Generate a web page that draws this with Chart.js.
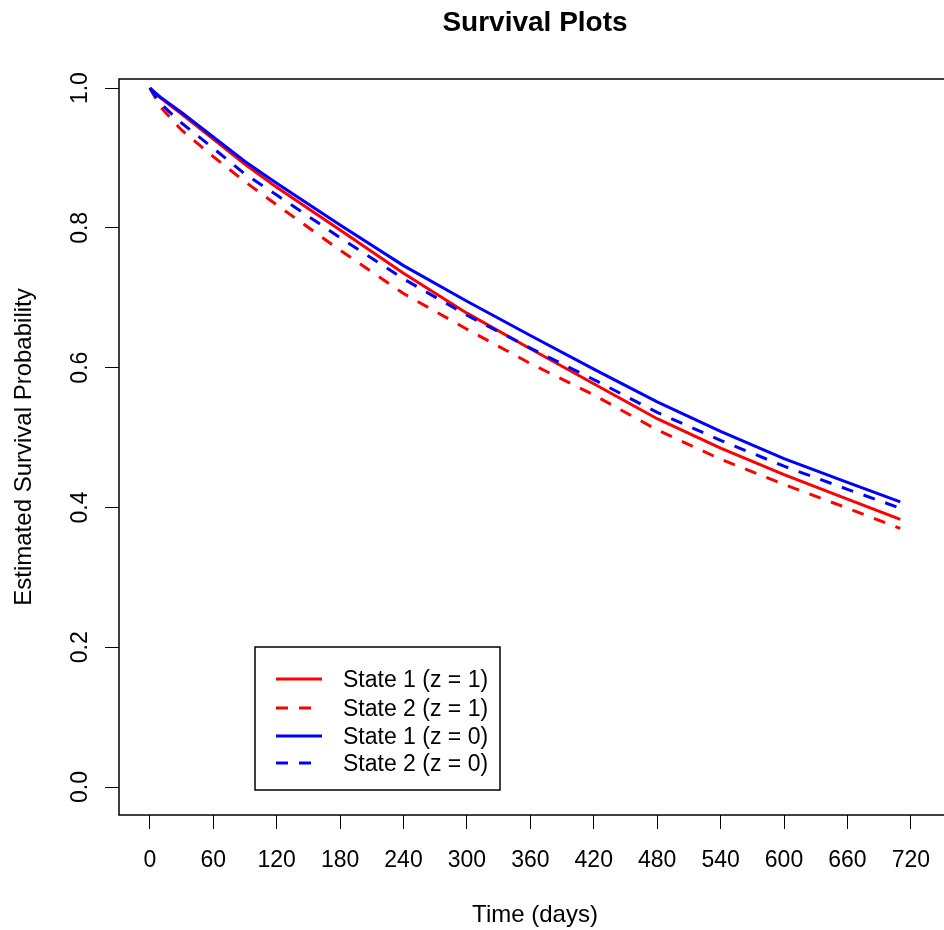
<!DOCTYPE html>
<html>
<head>
<meta charset="utf-8">
<script src="https://cdn.jsdelivr.net/npm/chart.js@4.4.1/dist/chart.umd.min.js"></script>
<style>
  html, body { margin: 0; padding: 0; background: #fff; overflow: hidden; }
  #wrap { width: 944px; height: 930px; overflow: hidden; position: relative; }
  canvas { display: block; }
</style>
</head>
<body>
<div id="wrap"><canvas id="survival" width="960" height="930"></canvas></div>
<script>
// Time grid (days) and estimated survival
const days = [0, 10, 30, 60, 90, 120, 180, 240, 300, 360, 420, 480, 540, 600, 660, 710];
const state1z1 = [1.000, 0.986, 0.963, 0.927, 0.891, 0.858, 0.797, 0.735, 0.678, 0.627, 0.577, 0.527, 0.485, 0.447, 0.412, 0.383];
const state2z1 = [1.000, 0.973, 0.940, 0.902, 0.866, 0.833, 0.768, 0.706, 0.655, 0.606, 0.561, 0.511, 0.469, 0.433, 0.399, 0.370];
const state1z0 = [1.000, 0.987, 0.965, 0.930, 0.895, 0.864, 0.804, 0.746, 0.695, 0.646, 0.598, 0.551, 0.509, 0.470, 0.436, 0.408];
const state2z0 = [1.000, 0.978, 0.950, 0.914, 0.877, 0.847, 0.786, 0.727, 0.675, 0.628, 0.583, 0.536, 0.496, 0.459, 0.426, 0.399];

const seriesLabels = ['State 1 (z = 1)', 'State 2 (z = 1)', 'State 1 (z = 0)', 'State 2 (z = 0)'];
const xTicks = [0, 60, 120, 180, 240, 300, 360, 420, 480, 540, 600, 660, 720];
const yTicks = [0, 0.2, 0.4, 0.6, 0.8, 1.0];

const FONT = "'Liberation Sans', Arial, Helvetica, sans-serif";
const DASH = [12, 11];

function toPoints(values) {
    return values.map((v, i) => ({ x: days[i], y: v }));
}

// R style box around the plot region
const boxPlugin = {
    id: 'box',
    afterDraw(chart) {
        const { ctx, chartArea } = chart;
        ctx.save();
        ctx.strokeStyle = '#000';
        ctx.lineWidth = 1.5;
        ctx.strokeRect(chartArea.left, chartArea.top, chartArea.right - chartArea.left, chartArea.bottom - chartArea.top);
        ctx.restore();
    }
};

// y tick labels are written vertically like in R (las = 0)
const yLabelPlugin = {
    id: 'yLabels',
    afterDraw(chart) {
        const { ctx } = chart;
        const y = chart.scales.y;
        ctx.save();
        ctx.fillStyle = '#000';
        ctx.font = '23px ' + FONT;
        ctx.textAlign = 'center';
        ctx.textBaseline = 'alphabetic';
        yTicks.forEach(v => {
            const py = y.getPixelForValue(v);
            ctx.save();
            ctx.translate(87, py);
            ctx.rotate(-Math.PI / 2);
            ctx.fillText(v.toFixed(1), 0, 0);
            ctx.restore();
        });
        ctx.restore();
    }
};

// legend box in the lower left corner of the plot
const legendPlugin = {
    id: 'boxLegend',
    afterDraw(chart) {
        const { ctx } = chart;
        const rows = [679, 708, 736, 763];
        ctx.save();
        ctx.fillStyle = '#fff';
        ctx.fillRect(255, 647, 245, 143);
        ctx.strokeStyle = '#000';
        ctx.lineWidth = 1.5;
        ctx.strokeRect(255, 647, 245, 143);
        chart.data.datasets.forEach((ds, i) => {
            ctx.strokeStyle = ds.borderColor;
            ctx.lineWidth = 3;
            ctx.setLineDash(ds.borderDash || []);
            ctx.beginPath();
            ctx.moveTo(276, rows[i]);
            ctx.lineTo(322, rows[i]);
            ctx.stroke();
            ctx.setLineDash([]);
            ctx.fillStyle = '#000';
            ctx.font = '23px ' + FONT;
            ctx.textAlign = 'left';
            ctx.textBaseline = 'middle';
            ctx.fillText(ds.label, 343, rows[i] + 2);
        });
        ctx.restore();
    }
};

const ctx = document.getElementById('survival').getContext('2d');
const chart = new Chart(ctx, {
    type: 'line',
    data: {
        datasets: [
            { label: seriesLabels[0], data: toPoints(state1z1), borderColor: '#ff0000', borderDash: [], order: 4 },
            { label: seriesLabels[1], data: toPoints(state2z1), borderColor: '#ff0000', borderDash: DASH, order: 3 },
            { label: seriesLabels[2], data: toPoints(state1z0), borderColor: '#0000ff', borderDash: [], order: 2 },
            { label: seriesLabels[3], data: toPoints(state2z0), borderColor: '#0000ff', borderDash: DASH, order: 1 }
        ]
    },
    options: {
        responsive: false,
        animation: false,
        devicePixelRatio: 1,
        datasets: {
            line: {
                borderWidth: 3,
                pointRadius: 0,
                tension: 0,
                fill: false
            }
        },
        layout: {
            padding: { left: 0, right: 9, top: 0, bottom: 0 }
        },
        scales: {
            x: {
                type: 'linear',
                min: -29.2,
                max: 758,
                afterBuildTicks: axis => { axis.ticks = xTicks.map(v => ({ value: v })); },
                afterFit: axis => { axis.height = 115; },
                ticks: {
                    color: '#000',
                    font: { family: FONT, size: 23 },
                    padding: 18,
                    maxRotation: 0,
                    autoSkip: false
                },
                grid: {
                    drawOnChartArea: false,
                    drawTicks: true,
                    tickLength: 14,
                    color: '#000',
                    lineWidth: 1
                },
                border: { display: false },
                title: {
                    display: true,
                    text: 'Time (days)',
                    color: '#000',
                    font: { family: FONT, size: 24 },
                    padding: { top: 0, bottom: 0 }
                }
            },
            y: {
                type: 'linear',
                min: -0.04,
                max: 1.013,
                afterBuildTicks: axis => { axis.ticks = yTicks.map(v => ({ value: v })); },
                afterFit: axis => { axis.width = 119; },
                ticks: { display: false },
                grid: {
                    drawOnChartArea: false,
                    drawTicks: true,
                    tickLength: 14,
                    color: '#000',
                    lineWidth: 1
                },
                border: { display: false },
                title: {
                    display: true,
                    text: 'Estimated Survival Probability',
                    color: '#000',
                    font: { family: FONT, size: 24 },
                    padding: { top: 10, bottom: 0 }
                }
            }
        },
        plugins: {
            legend: { display: false },
            tooltip: { enabled: false },
            title: {
                display: true,
                fullSize: false,
                text: 'Survival Plots',
                color: '#000',
                font: { family: FONT, size: 28, weight: 'bold' },
                padding: { top: 6, bottom: 39.4 }
            }
        }
    },
    plugins: [boxPlugin, yLabelPlugin, legendPlugin]
});
</script>
</body>
</html>
